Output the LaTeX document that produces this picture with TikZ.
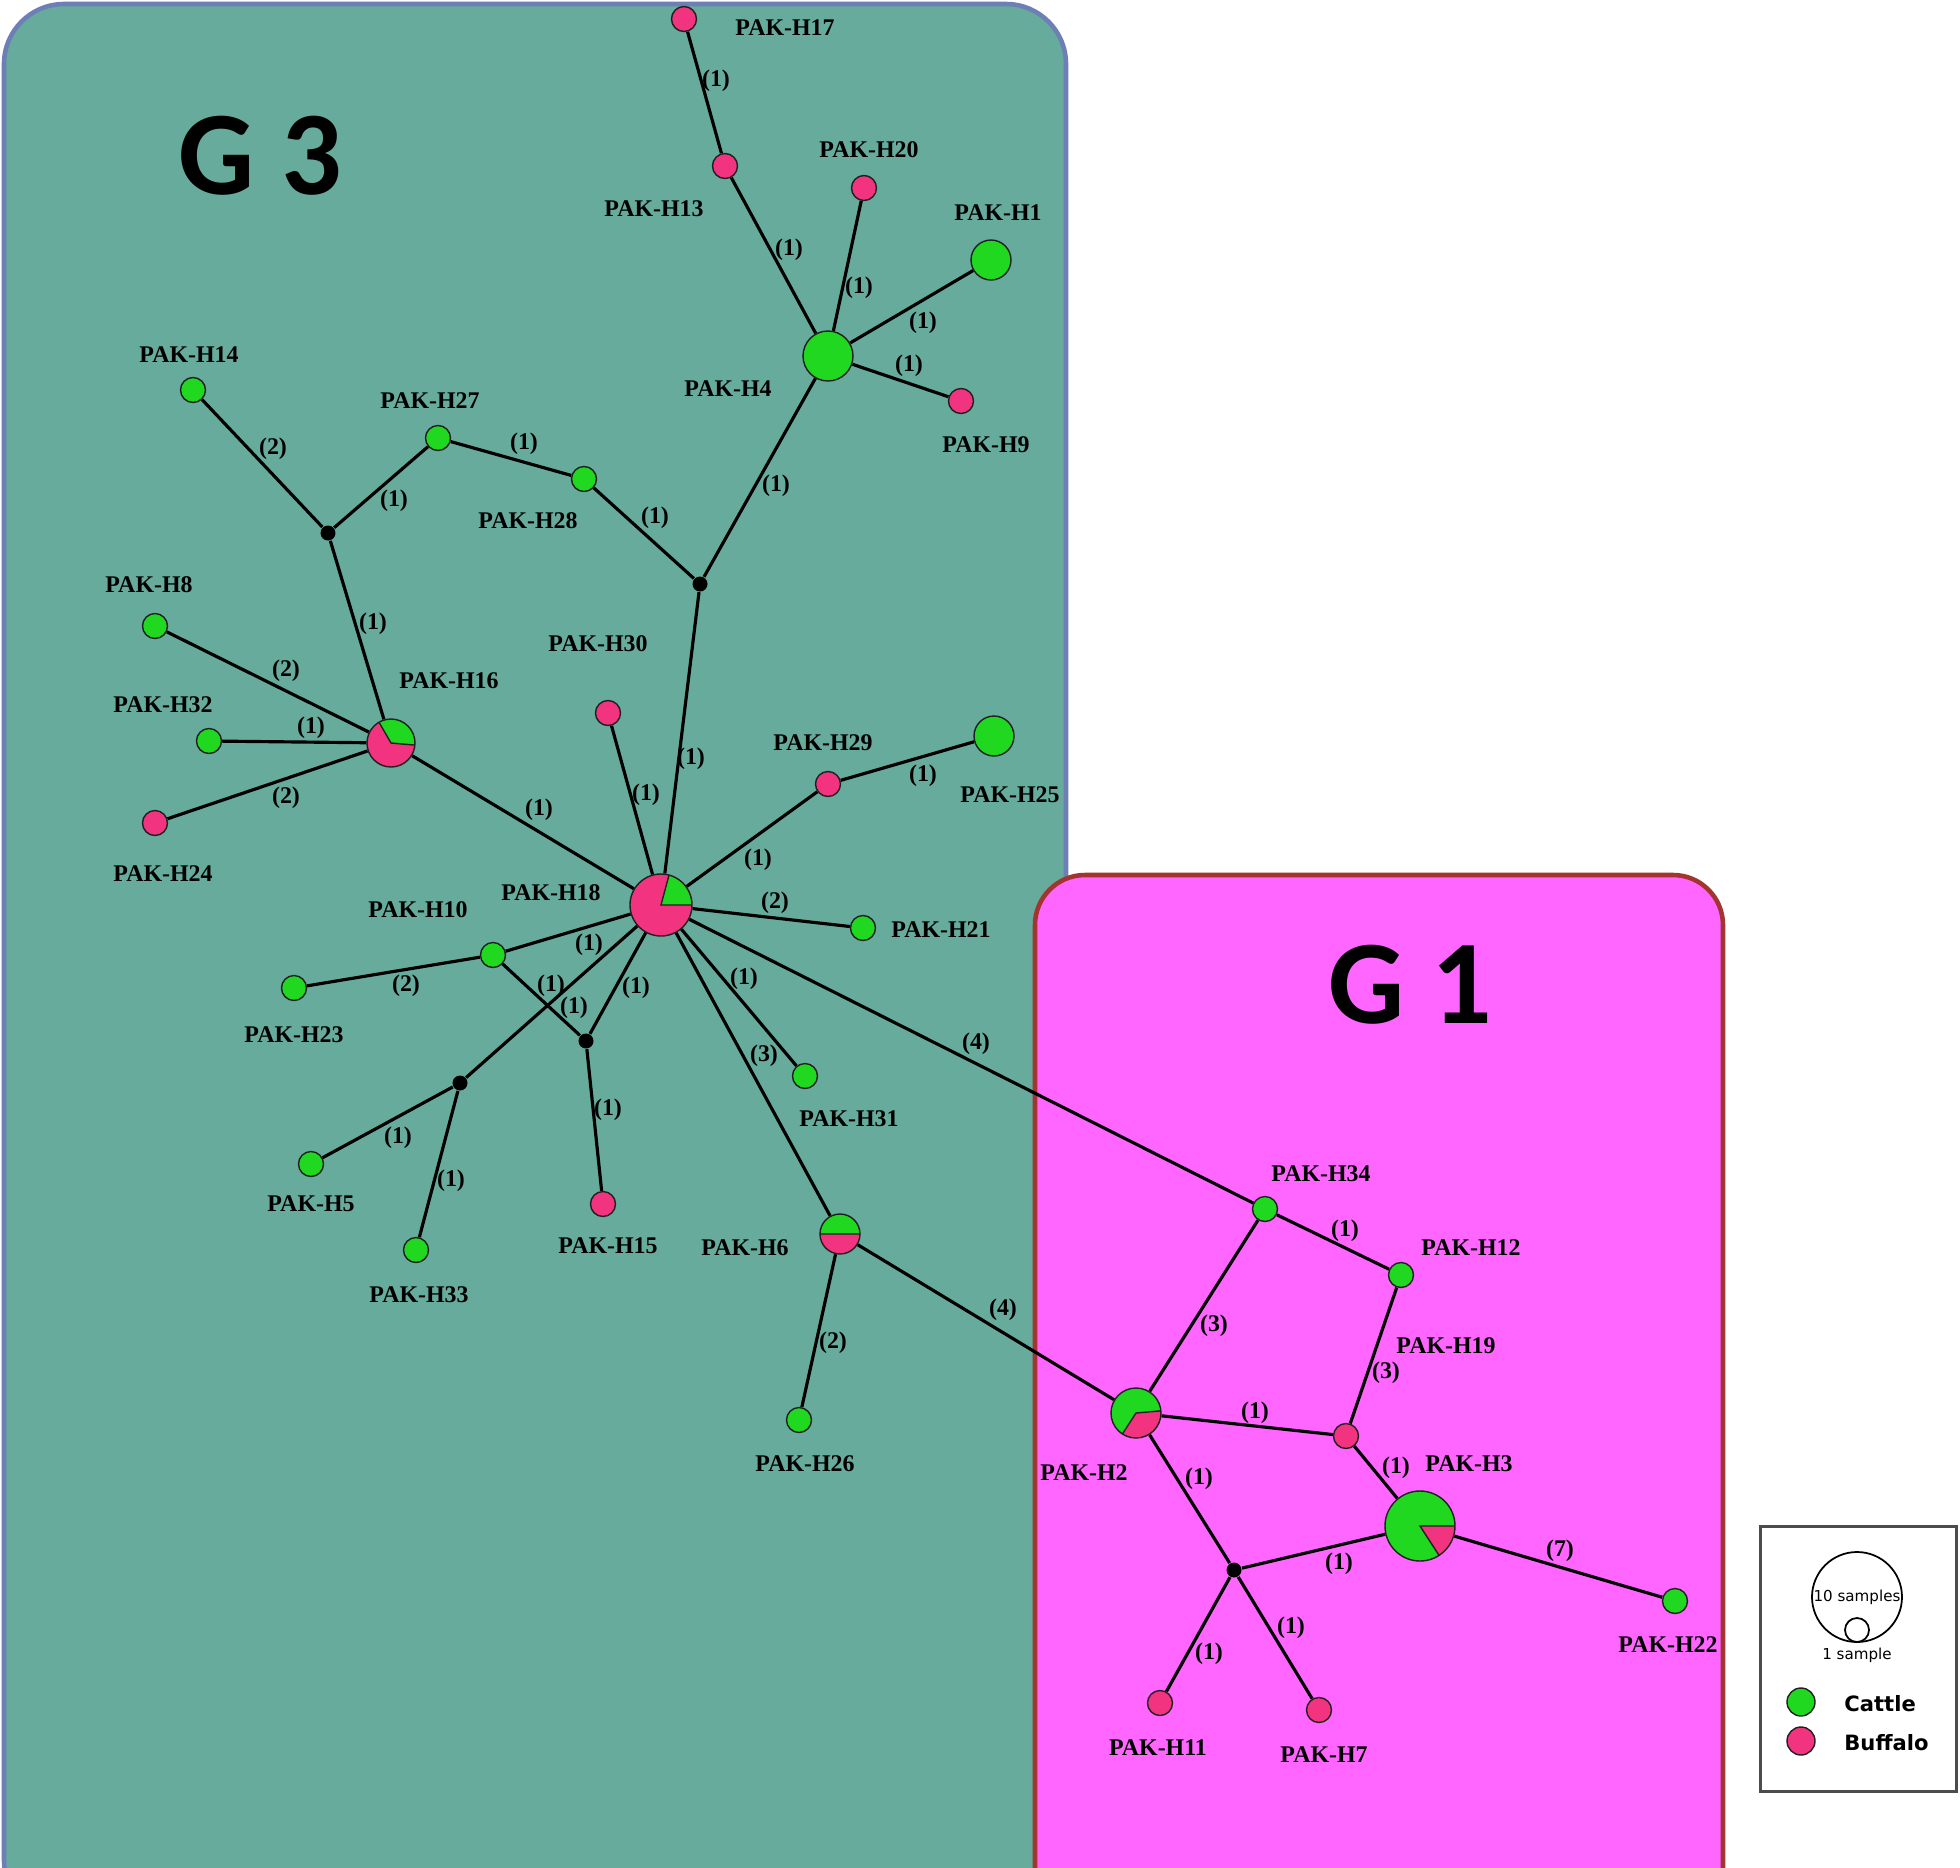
\documentclass[tikz,border=0pt]{standalone}
\usepackage{fontspec}
\usepackage{xcolor}
\setmainfont{Liberation Serif}
\newfontfamily\groupfont{Carlito}
\newfontfamily\keyfont{DejaVu Sans}
\definecolor{cattle}{HTML}{1FD81F}
\definecolor{buffalo}{HTML}{F2337F}
\definecolor{gthreefill}{HTML}{67AB9C}
\definecolor{gthreeline}{HTML}{6E7FB5}
\definecolor{gonefill}{HTML}{FF66FF}
\definecolor{goneline}{HTML}{A23530}
\definecolor{nodeline}{HTML}{202020}
\pgfdeclarelayer{background}
\pgfdeclarelayer{edges}
\pgfsetlayers{background,edges,main}
\tikzset{
  hap/.style={circle,draw=nodeline,line width=0.4pt,inner sep=0pt,minimum size=2.5mm},
  cowhap/.style={hap,fill=cattle},
  bufhap/.style={hap,fill=buffalo},
  medvec/.style={circle,fill=black,inner sep=0pt,minimum size=1.5mm},
  slice/.style n args={3}{path picture={\filldraw[fill=#3,draw=nodeline,line width=0.4pt]
      (path picture bounding box.center) -- ++(#1:1cm) arc[start angle=#1,end angle=#2,radius=1cm] -- cycle;}},
  link/.style={draw=black,line width=0.9pt},
  hlabel/.style={font=\fontsize{6.8}{8}\selectfont\bfseries,text=black,inner sep=1pt},
  elab/.style={hlabel},
  grouplabel/.style={font=\groupfont\fontsize{34}{36}\selectfont\bfseries,text=black},
  keytext/.style={font=\keyfont\fontsize{6}{7}\selectfont\bfseries,text=black,anchor=west},
  tinytext/.style={font=\keyfont\fontsize{4.3}{5}\selectfont,text=black,inner sep=0pt}
}
\begin{document}
\begin{tikzpicture}[x=0.1mm,y=-0.1mm]
  \useasboundingbox (0,0) rectangle (1960,1868);
  % group panels
  \begin{pgfonlayer}{background}
    \fill[white] (0,0) rectangle (1960,1868);
    \draw[rounded corners=6mm,fill=gthreefill,draw=gthreeline,line width=1.3pt] (4,4) rectangle (1066,1920);
    \draw[rounded corners=5mm,fill=gonefill,draw=goneline,line width=1.3pt] (1035,875) rectangle (1723,1920);
  \end{pgfonlayer}
  \node[grouplabel] (gthree) at (260,156) {G 3};
  \node[grouplabel] (gone) at (1410,985) {G 1};

  % G3 haplotypes
  \node[bufhap] (h17) at (684,19) {};
  \node[bufhap] (h13) at (725,166) {};
  \node[bufhap] (h20) at (864,188) {};
  \node[cowhap,minimum size=4mm] (h1) at (991,260) {};
  \node[cowhap,minimum size=5mm] (h4) at (828,356) {};
  \node[bufhap] (h9) at (961,401) {};
  \node[cowhap] (h14) at (193,390) {};
  \node[cowhap] (h27) at (438,438) {};
  \node[cowhap] (h28) at (584,479) {};
  \node[medvec] (m1) at (328,533) {};
  \node[medvec] (m2) at (700,584) {};
  \node[cowhap] (h8) at (155,626) {};
  \node[bufhap] (h30) at (608,713) {};
  \node[bufhap,minimum size=4.8mm,slice={-5}{120}{cattle}] (h16) at (391,743) {};
  \node[cowhap] (h32) at (209,741) {};
  \node[bufhap] (h24) at (155,823) {};
  \node[bufhap] (h29) at (828,784) {};
  \node[cowhap,minimum size=4mm] (h25) at (994,736) {};
  \node[bufhap,minimum size=6.2mm,slice={0}{75}{cattle}] (h18) at (661,905) {};
  \node[cowhap] (h21) at (863,928) {};
  \node[cowhap] (h10) at (493,955) {};
  \node[cowhap] (h23) at (294,988) {};
  \node[medvec] (m3) at (586,1041) {};
  \node[medvec] (m4) at (460,1083) {};
  \node[cowhap] (h31) at (805,1076) {};
  \node[cowhap] (h5) at (311,1164) {};
  \node[cowhap] (h33) at (416,1250) {};
  \node[bufhap] (h15) at (603,1204) {};
  \node[bufhap,minimum size=4mm,slice={0}{180}{cattle}] (h6) at (840,1234) {};
  \node[cowhap] (h26) at (799,1420) {};

  % G1 haplotypes
  \node[cowhap] (h34) at (1265,1209) {};
  \node[cowhap] (h12) at (1401,1275) {};
  \node[bufhap] (h19) at (1346,1436) {};
  \node[cowhap,minimum size=5mm,slice={237}{365}{buffalo}] (h2) at (1136,1413) {};
  \node[cowhap,minimum size=7mm,slice={-57}{0}{buffalo}] (h3) at (1420,1526) {};
  \node[medvec] (m5) at (1234,1570) {};
  \node[cowhap] (h22) at (1675,1601) {};
  \node[bufhap] (h11) at (1160,1703) {};
  \node[bufhap] (h7) at (1319,1710) {};

  % haplotype names
  \node[hlabel] (l17) at (785,28) {PAK-H17};
  \node[hlabel] (l13) at (654,209) {PAK-H13};
  \node[hlabel] (l20) at (869,150) {PAK-H20};
  \node[hlabel] (l1) at (998,213) {PAK-H1};
  \node[hlabel] (l4) at (728,389) {PAK-H4};
  \node[hlabel] (l9) at (986,445) {PAK-H9};
  \node[hlabel] (l14) at (189,355) {PAK-H14};
  \node[hlabel] (l27) at (430,401) {PAK-H27};
  \node[hlabel] (l28) at (528,521) {PAK-H28};
  \node[hlabel] (l8) at (149,585) {PAK-H8};
  \node[hlabel] (l30) at (598,644) {PAK-H30};
  \node[hlabel] (l16) at (449,681) {PAK-H16};
  \node[hlabel] (l32) at (163,705) {PAK-H32};
  \node[hlabel] (l24) at (163,874) {PAK-H24};
  \node[hlabel] (l29) at (823,743) {PAK-H29};
  \node[hlabel] (l25) at (1010,795) {PAK-H25};
  \node[hlabel] (l18) at (551,893) {PAK-H18};
  \node[hlabel] (l21) at (941,930) {PAK-H21};
  \node[hlabel] (l10) at (418,910) {PAK-H10};
  \node[hlabel] (l23) at (294,1035) {PAK-H23};
  \node[hlabel] (l31) at (849,1119) {PAK-H31};
  \node[hlabel] (l5) at (311,1204) {PAK-H5};
  \node[hlabel] (l33) at (419,1295) {PAK-H33};
  \node[hlabel] (l15) at (608,1246) {PAK-H15};
  \node[hlabel] (l6) at (745,1248) {PAK-H6};
  \node[hlabel] (l26) at (805,1464) {PAK-H26};
  \node[hlabel] (l34) at (1321,1174) {PAK-H34};
  \node[hlabel] (l12) at (1471,1248) {PAK-H12};
  \node[hlabel] (l19) at (1446,1346) {PAK-H19};
  \node[hlabel] (l2) at (1084,1473) {PAK-H2};
  \node[hlabel] (l3) at (1469,1464) {PAK-H3};
  \node[hlabel] (l22) at (1668,1645) {PAK-H22};
  \node[hlabel] (l11) at (1158,1748) {PAK-H11};
  \node[hlabel] (l7) at (1324,1755) {PAK-H7};

  % connectors
  \begin{pgfonlayer}{edges}
    \draw[link] (h17)--(h13); \draw[link] (h13)--(h4); \draw[link] (h20)--(h4);
    \draw[link] (h1)--(h4); \draw[link] (h4)--(h9); \draw[link] (h4)--(m2);
    \draw[link] (h14)--(m1); \draw[link] (m1)--(h27); \draw[link] (h27)--(h28);
    \draw[link] (h28)--(m2); \draw[link] (m1)--(h16); \draw[link] (m2)--(h18);
    \draw[link] (h8)--(h16); \draw[link] (h32)--(h16); \draw[link] (h24)--(h16);
    \draw[link] (h16)--(h18); \draw[link] (h30)--(h18); \draw[link] (h18)--(h29);
    \draw[link] (h29)--(h25); \draw[link] (h18)--(h21); \draw[link] (h18)--(h10);
    \draw[link] (h10)--(h23); \draw[link] (h10)--(m3); \draw[link] (h18)--(m4);
    \draw[link] (h18)--(m3); \draw[link] (h18)--(h31); \draw[link] (h18)--(h6);
    \draw[link] (h18)--(h34); \draw[link] (m3)--(h15); \draw[link] (m4)--(h5);
    \draw[link] (m4)--(h33); \draw[link] (h6)--(h26); \draw[link] (h6)--(h2);
    \draw[link] (h34)--(h12); \draw[link] (h34)--(h2); \draw[link] (h12)--(h19);
    \draw[link] (h2)--(h19); \draw[link] (h19)--(h3); \draw[link] (h2)--(m5);
    \draw[link] (m5)--(h3); \draw[link] (h3)--(h22); \draw[link] (m5)--(h11);
    \draw[link] (m5)--(h7);
  \end{pgfonlayer}

  % mutation steps
  \node[elab] (s1) at (716,81) {(1)};
  \node[elab] (s2) at (789,250) {(1)};
  \node[elab] (s3) at (859,288) {(1)};
  \node[elab] (s4) at (923,323) {(1)};
  \node[elab] (s5) at (909,366) {(1)};
  \node[elab] (s6) at (776,486) {(1)};
  \node[elab] (s7) at (273,449) {(2)};
  \node[elab] (s8) at (394,501) {(1)};
  \node[elab] (s9) at (524,444) {(1)};
  \node[elab] (s10) at (655,518) {(1)};
  \node[elab] (s11) at (373,624) {(1)};
  \node[elab] (s12) at (691,759) {(1)};
  \node[elab] (s13) at (286,671) {(2)};
  \node[elab] (s14) at (311,728) {(1)};
  \node[elab] (s15) at (286,798) {(2)};
  \node[elab] (s16) at (539,810) {(1)};
  \node[elab] (s17) at (646,795) {(1)};
  \node[elab] (s18) at (758,860) {(1)};
  \node[elab] (s19) at (923,776) {(1)};
  \node[elab] (s20) at (775,903) {(2)};
  \node[elab] (s21) at (589,945) {(1)};
  \node[elab] (s22) at (406,986) {(2)};
  \node[elab] (s23) at (551,986) {(1)};
  \node[elab] (s24) at (574,1008) {(1)};
  \node[elab] (s25) at (636,988) {(1)};
  \node[elab] (s26) at (744,979) {(1)};
  \node[elab] (s27) at (764,1056) {(3)};
  \node[elab] (s28) at (976,1044) {(4)};
  \node[elab] (s29) at (608,1110) {(1)};
  \node[elab] (s30) at (398,1138) {(1)};
  \node[elab] (s31) at (451,1181) {(1)};
  \node[elab] (s32) at (833,1343) {(2)};
  \node[elab] (s33) at (1003,1310) {(4)};
  \node[elab] (s34) at (1345,1231) {(1)};
  \node[elab] (s35) at (1214,1326) {(3)};
  \node[elab] (s36) at (1386,1373) {(3)};
  \node[elab] (s37) at (1255,1413) {(1)};
  \node[elab] (s38) at (1396,1468) {(1)};
  \node[elab] (s39) at (1199,1479) {(1)};
  \node[elab] (s40) at (1339,1564) {(1)};
  \node[elab] (s41) at (1560,1551) {(7)};
  \node[elab] (s42) at (1209,1654) {(1)};
  \node[elab] (s43) at (1291,1628) {(1)};

  % legend
  \node[draw=black!70,line width=0.8pt,minimum width=19.6mm,minimum height=26.5mm,anchor=north west] (key) at (1759,1525) {};
  \node[circle,draw=black,line width=0.5pt,minimum size=9mm,inner sep=0pt] (bigref) at (1857,1597) {};
  \node[circle,draw=black,line width=0.5pt,minimum size=2.4mm,inner sep=0pt] (smallref) at (1857,1630) {};
  \node[tinytext] (tenlab) at (1857,1597) {10 samples};
  \node[tinytext] (onelab) at (1857,1655) {1 sample};
  \node[cowhap,minimum size=2.8mm] (keycow) at (1801,1702) {};
  \node[bufhap,minimum size=2.8mm] (keybuf) at (1801,1741) {};
  \node[keytext] (cowtext) at (1832,1704) {Cattle};
  \node[keytext] (buftext) at (1832,1743) {Buffalo};
\end{tikzpicture}
\end{document}
